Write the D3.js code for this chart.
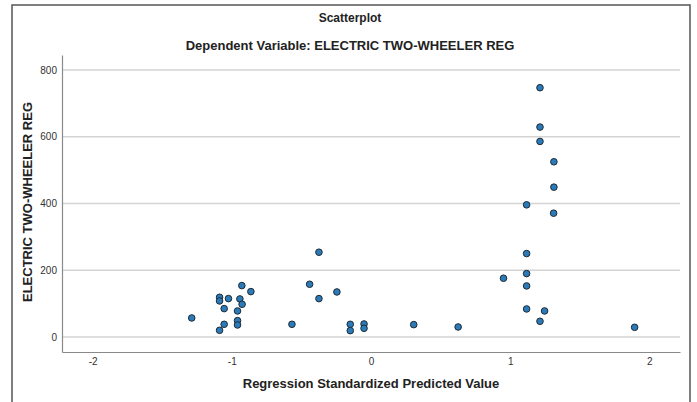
<!DOCTYPE html>
<html>
<head>
<meta charset="utf-8">
<script src="https://cdn.jsdelivr.net/npm/d3@7"></script>
<style>
	body { margin: 0; background: #fff; }
	text { font-family: "Liberation Sans", Arial, sans-serif; }
</style>
</head>
<body>
<svg id="chart" width="697" height="402"></svg>
<script>
// Standardized predicted value (x) and registrations (y)
var predicted = [
	-1.288, -1.088, -1.088, -1.024, -1.055, -1.088, -1.055, -0.928, -0.863, -0.942,
	-0.926, -0.959, -0.959, -0.959, -0.568, -0.374, -0.441, -0.374, -0.245, -0.149,
	-0.149, -0.050, -0.050, 0.307, 0.626, 0.952, 1.118, 1.118, 1.118, 1.118,
	1.118, 1.312, 1.247, 1.214, 1.894, 1.214, 1.214, 1.214, 1.314, 1.314
];
var registrations = [
	57, 119, 108, 115, 85, 20, 38, 154, 136, 114,
	98, 78, 49, 36, 38, 254, 158, 115, 135, 38,
	19, 39, 26, 37, 30, 176, 396, 250, 190, 153,
	84, 371, 78, 47, 29, 747, 629, 586, 525, 449
];
var xTicks = [-2, -1, 0, 1, 2];
var yTicks = [0, 200, 400, 600, 800];

var svg = d3.select("#chart");
var plot = { left: 62, right: 680, top: 55, bottom: 352 };

var x = d3.scaleLinear().domain([-2.22, 2.22]).range([plot.left, plot.right]);
var y = d3.scaleLinear().domain([-45, 845]).range([plot.bottom, plot.top]);

// outer frame
svg.append("rect")
	.attr("x", 12).attr("y", 5)
	.attr("width", 678).attr("height", 420)
	.attr("fill", "none")
	.attr("stroke", "#555")
	.attr("stroke-width", 1.5);

// titles
svg.append("text")
	.attr("x", 350).attr("y", 22)
	.attr("text-anchor", "middle")
	.style("font-size", "12px").style("font-weight", "bold")
	.attr("fill", "#222")
	.text("Scatterplot");

svg.append("text")
	.attr("x", 350).attr("y", 50)
	.attr("text-anchor", "middle")
	.style("font-size", "13px").style("font-weight", "bold")
	.attr("fill", "#222")
	.text("Dependent Variable: ELECTRIC TWO-WHEELER REG");

// gridlines
svg.append("g")
	.selectAll("line")
	.data(yTicks)
	.enter()
	.append("line")
	.attr("x1", plot.left).attr("x2", plot.right)
	.attr("y1", d => y(d)).attr("y2", d => y(d))
	.attr("stroke", "#d4d4d4")
	.attr("stroke-width", 1.5);

// axes
var yAxis = svg.append("g")
	.attr("transform", "translate(" + plot.left + ",0)")
	.call(d3.axisLeft(y).tickValues(yTicks).tickSize(0).tickPadding(5));

var xAxis = svg.append("g")
	.attr("transform", "translate(0," + plot.bottom + ")")
	.call(d3.axisBottom(x).tickValues(xTicks).tickSize(0).tickPadding(6).tickFormat(d => String(d)));

[xAxis, yAxis].forEach(function (g) {
	g.select(".domain").attr("stroke", "#8a8a8a").attr("stroke-width", 1.2);
	g.selectAll("text")
		.style("font-size", "10px")
		.attr("fill", "#333");
});

// points
svg.append("g")
	.selectAll("circle")
	.data(predicted.map((d, i) => ({ x: d, y: registrations[i] })))
	.enter()
	.append("circle")
	.attr("cx", d => x(d.x))
	.attr("cy", d => y(d.y))
	.attr("r", 3.3)
	.attr("fill", "#2b7bba")
	.attr("stroke", "#1e2a33")
	.attr("stroke-width", 1);

// axis titles
svg.append("text")
	.attr("x", 371).attr("y", 388)
	.attr("text-anchor", "middle")
	.style("font-size", "13px").style("font-weight", "bold")
	.attr("fill", "#222")
	.text("Regression Standardized Predicted Value");

svg.append("text")
	.attr("transform", "translate(32,202) rotate(-90)")
	.attr("text-anchor", "middle")
	.style("font-size", "13px").style("font-weight", "bold")
	.attr("fill", "#222")
	.text("ELECTRIC TWO-WHEELER REG");
</script>
</body>
</html>
